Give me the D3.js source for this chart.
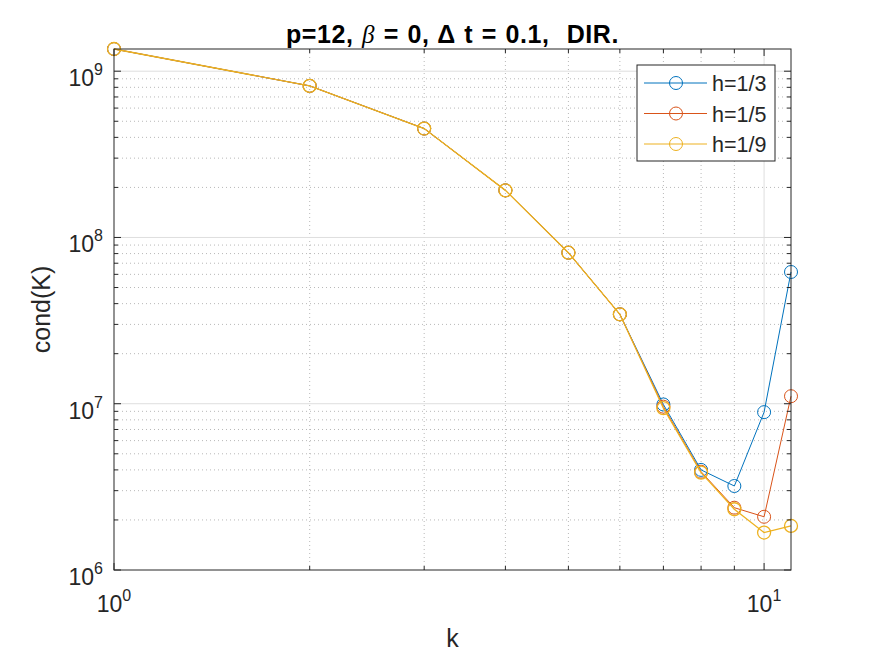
<!DOCTYPE html>
<html><head><meta charset="utf-8">
<script src="https://cdn.jsdelivr.net/npm/d3@7"></script>
<style>body{margin:0;background:#fff}svg{display:block}text{font-family:"Liberation Sans",Arial,sans-serif;fill:#262626}</style>
</head><body>
<script>
const kValues = [1,2,3,4,5,6,7,8,9,10,11];
const seriesNames = ["h=1/3","h=1/5","h=1/9"];
const h3 = [1.36e9,8.16e8,4.52e8,1.92e8,8.1e7,3.45e7,9.9e6,4.0e6,3.2e6,8.9e6,6.2e7];
const h5 = [1.36e9,8.16e8,4.52e8,1.92e8,8.1e7,3.45e7,9.6e6,3.9e6,2.37e6,2.09e6,1.11e7];
const h9 = [1.36e9,8.16e8,4.52e8,1.92e8,8.1e7,3.45e7,9.4e6,3.85e6,2.32e6,1.68e6,1.84e6];
const xTickExps = [0,1];
const yTickExps = [6,7,8,9];
const colors = ["#0072BD","#D95319","#EDB120"];

const W=875,H=656;
const L=114,R=791,T=49,B=570;
const svg=d3.select("body").append("svg").attr("width",W).attr("height",H);
const x=d3.scaleLog().domain([1,11]).range([L,R]);
const y=d3.scaleLog().domain([1e6,1.36e9]).range([B,T]);

// minor grid
const xMinor=[2,3,4,5,6,7,8,9];
const yMinor=[];
for(let e=6;e<=9;e++)for(let m=2;m<=9;m++){const v=m*Math.pow(10,e);if(v<y.domain()[1])yMinor.push(v);}
const g=svg.append("g");
g.selectAll(".xm").data(xMinor).join("line").attr("x1",d=>x(d)).attr("x2",d=>x(d)).attr("y1",T).attr("y2",B)
 .attr("stroke","#b8b8b8").attr("stroke-width",1).attr("stroke-dasharray","1,3");
g.selectAll(".ym").data(yMinor).join("line").attr("x1",L).attr("x2",R).attr("y1",d=>y(d)).attr("y2",d=>y(d))
 .attr("stroke","#b8b8b8").attr("stroke-width",1).attr("stroke-dasharray","1,3");
// major grid
g.selectAll(".xM").data([10]).join("line").attr("x1",d=>x(d)).attr("x2",d=>x(d)).attr("y1",T).attr("y2",B)
 .attr("stroke","#dedede").attr("stroke-width",1);
g.selectAll(".yM").data(yTickExps.slice(1).map(e=>Math.pow(10,e))).join("line").attr("x1",L).attr("x2",R).attr("y1",d=>y(d)).attr("y2",d=>y(d))
 .attr("stroke","#dedede").attr("stroke-width",1);

// series
const series=[h3,h5,h9];
series.forEach((vals,i)=>{
  const pts=kValues.map((k,j)=>[k,vals[j]]);
  const sw=i===2?1.3:1;
  svg.append("path").datum(pts).attr("fill","none").attr("stroke",colors[i]).attr("stroke-width",sw)
   .attr("d",d3.line().x(d=>x(d[0])).y(d=>y(d[1])));
  svg.selectAll(null).data(pts).join("circle").attr("cx",d=>x(d[0])).attr("cy",d=>y(d[1])).attr("r",6.5)
   .attr("fill","none").attr("stroke",colors[i]).attr("stroke-width",sw);
});

// box & ticks
const ax=svg.append("g").attr("stroke","#262626").attr("stroke-width",1).attr("fill","none");
ax.append("rect").attr("x",L).attr("y",T).attr("width",R-L).attr("height",B-T);
const xMajor=[1,10];
xMajor.concat(xMinor).forEach(v=>{
  const len=xMajor.includes(v)?7:4;
  ax.append("line").attr("x1",x(v)).attr("x2",x(v)).attr("y1",B).attr("y2",B-len);
  ax.append("line").attr("x1",x(v)).attr("x2",x(v)).attr("y1",T).attr("y2",T+len);
});
yTickExps.map(e=>Math.pow(10,e)).forEach(v=>{
  ax.append("line").attr("x1",L).attr("x2",L+7).attr("y1",y(v)).attr("y2",y(v));
  ax.append("line").attr("x1",R).attr("x2",R-7).attr("y1",y(v)).attr("y2",y(v));
});
yMinor.forEach(v=>{
  ax.append("line").attr("x1",L).attr("x2",L+4).attr("y1",y(v)).attr("y2",y(v));
  ax.append("line").attr("x1",R).attr("x2",R-4).attr("y1",y(v)).attr("y2",y(v));
});

// tick labels
xTickExps.forEach(e=>{
  const t=svg.append("text").attr("x",x(Math.pow(10,e))).attr("y",612).attr("text-anchor","middle").attr("font-size",23);
  t.append("tspan").text("10");
  t.append("tspan").attr("dy",-11).attr("font-size",16).text(e);
});
yTickExps.forEach(e=>{
  const t=svg.append("text").attr("x",103).attr("y",y(Math.pow(10,e))+15).attr("text-anchor","end").attr("font-size",23);
  t.append("tspan").text("10");
  t.append("tspan").attr("dy",-11).attr("font-size",16).text(e);
});

// axis labels
svg.append("text").attr("x",(L+R)/2).attr("y",647).attr("text-anchor","middle").attr("font-size",25).text("k");
svg.append("text").attr("transform",`translate(50,${(T+B)/2}) rotate(-90)`).attr("text-anchor","middle").attr("font-size",25).text("cond(K)");

// title
const tt=svg.append("text").attr("x",(L+R)/2).attr("y",43).attr("text-anchor","middle").attr("font-size",25).attr("font-weight","bold")
  .attr("letter-spacing",0.6).attr("word-spacing",1).attr("xml:space","preserve").style("white-space","pre").style("fill","#000");
tt.append("tspan").text("p=12, ");
tt.append("tspan").attr("font-family","'Liberation Serif',serif").attr("font-style","italic").attr("font-weight","normal").text("β");
tt.append("tspan").text(" = 0, Δ t = 0.1,  DIR.");

// legend
const lg=svg.append("g");
lg.append("rect").attr("x",637).attr("y",65).attr("width",138).attr("height",96).attr("fill","#fff").attr("stroke","#262626").attr("stroke-width",1);
seriesNames.forEach((n,i)=>{
  const cy=83+i*30.5;
  lg.append("line").attr("x1",644).attr("x2",707).attr("y1",cy).attr("y2",cy).attr("stroke",colors[i]).attr("stroke-width",1);
  lg.append("circle").attr("cx",676).attr("cy",cy).attr("r",6.5).attr("fill","none").attr("stroke",colors[i]).attr("stroke-width",1);
  lg.append("text").attr("x",712).attr("y",cy+8).attr("font-size",21.5).text(n);
});
</script>
</body></html>
